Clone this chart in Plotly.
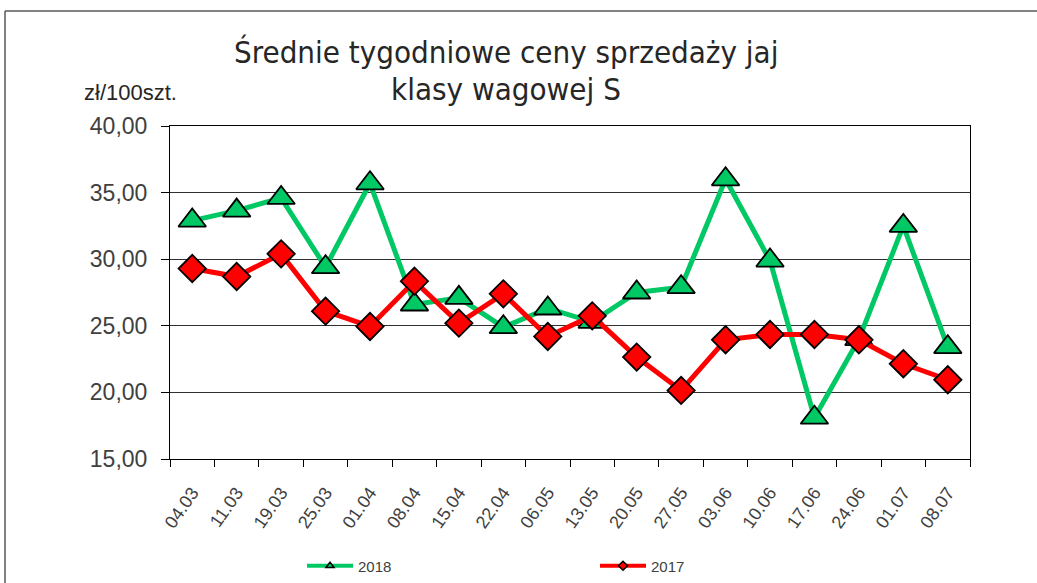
import plotly.graph_objects as go

dates = ["04.03", "11.03", "19.03", "25.03", "01.04", "08.04", "15.04", "22.04", "06.05",
         "13.05", "20.05", "27.05", "03.06", "10.06", "17.06", "24.06", "01.07", "08.07"]
s2018 = [32.9, 33.65, 34.6, 29.4, 35.7, 26.6, 27.1, 24.9, 26.3,
         25.3, 27.5, 27.9, 36.0, 29.9, 18.1, 24.0, 32.5, 23.4]
s2017 = [29.3, 28.7, 30.4, 26.1, 24.95, 28.35, 25.2, 27.4, 24.2,
         25.75, 22.65, 20.15, 23.95, 24.35, 24.35, 23.95, 22.15, 20.95]
name2018 = "2018"
name2017 = "2017"
ylabel = "zł/100szt."
title1 = "Średnie tygodniowe ceny sprzedaży jaj"
title2 = "klasy wagowej S"

GREEN = "#00C864"
RED = "#FF0000"
TXT = "#404040"

xs = list(range(len(dates)))

fig = go.Figure()
fig.add_trace(go.Scatter(
    x=xs, y=s2018, mode="lines+markers", name=name2018, showlegend=False,
    line=dict(color=GREEN, width=5),
    marker=dict(symbol="triangle-up", size=24, color=GREEN, line=dict(color="black", width=1.8)),
))
fig.add_trace(go.Scatter(
    x=xs, y=s2017, mode="lines+markers", name=name2017, showlegend=False,
    line=dict(color=RED, width=5),
    marker=dict(symbol="diamond", size=21, color=RED, line=dict(color="black", width=1.8)),
))
# legend entries (no data points)
fig.add_trace(go.Scatter(
    x=[None], y=[None], mode="lines+markers", name=name2018,
    line=dict(color=GREEN, width=4),
    marker=dict(symbol="triangle-up", size=7, color=GREEN, line=dict(color="black", width=1.5)),
))
fig.add_trace(go.Scatter(
    x=[None], y=[None], mode="lines+markers", name=name2017,
    line=dict(color=RED, width=4),
    marker=dict(symbol="diamond", size=7, color=RED, line=dict(color="black", width=1.5)),
))

L, R, T, B = 170, 970, 126, 459
W, H = 1037, 583


def px(x):
    return (x - L) / (R - L)


def py(y):
    return (B - y) / (B - T)


fig.update_layout(
    width=W, height=H,
    margin=dict(l=L, r=W - R, t=T, b=H - B, pad=0, autoexpand=False),
    paper_bgcolor="white", plot_bgcolor="white",
    separators=", ",
    font=dict(family="Liberation Sans, Arial, sans-serif", color=TXT),
    showlegend=True,
    legend=dict(
        orientation="h", xref="container", yref="container",
        x=302 / W, xanchor="left", y=(H - 566) / H, yanchor="middle",
        font=dict(size=15, color=TXT, family="Liberation Sans, Arial, sans-serif"),
        itemwidth=46,
        entrywidth=232, entrywidthmode="pixels", bgcolor="rgba(0,0,0,0)",
        traceorder="normal",
    ),
    xaxis=dict(
        range=[-0.5, len(dates) - 0.5],
        tickmode="array", tickvals=xs, ticktext=dates,
        ticks="", tickangle=-55,
        tickfont=dict(size=18, color=TXT),
        showgrid=False, zeroline=False,
        showline=True, linecolor="black", linewidth=1, mirror=True,
        minor=dict(tick0=-0.5, dtick=1, ticks="outside", ticklen=7, tickcolor="black",
                   tickwidth=1, showgrid=False),
        ticklabelstandoff=15,
    ),
    yaxis=dict(
        range=[15, 40], dtick=5, tick0=15, tickformat=".2f",
        ticks="outside", ticklen=8, tickcolor="black", tickwidth=1,
        tickfont=dict(size=23, color=TXT),
        showgrid=True, gridcolor="#303030", gridwidth=1,
        zeroline=False,
        showline=True, linecolor="black", linewidth=1, mirror=True,
        ticklabelstandoff=9,
    ),
)

TITLE_FONT = "Liberation Sans Narrow, DejaVu Sans Condensed, sans-serif"
fig.add_annotation(
    x=px(506), y=py(52), xref="paper", yref="paper", text=title1, showarrow=False,
    xanchor="center", yanchor="middle",
    font=dict(size=31, color="#262626", family=TITLE_FONT),
)
fig.add_annotation(
    x=px(506), y=py(89), xref="paper", yref="paper", text=title2, showarrow=False,
    xanchor="center", yanchor="middle",
    font=dict(size=31, color="#262626", family=TITLE_FONT),
)
fig.add_annotation(
    x=px(130), y=py(93), xref="paper", yref="paper", text=ylabel, showarrow=False,
    xanchor="center", yanchor="middle",
    font=dict(size=22, color="#262626", family="Liberation Sans, Arial, sans-serif"),
)

# outer chart frame (top and left edges visible)
fig.add_shape(type="line", xref="paper", yref="paper",
              x0=px(5), y0=py(11), x1=px(1040), y1=py(11),
              line=dict(color="#595959", width=1.5))
fig.add_shape(type="line", xref="paper", yref="paper",
              x0=px(5), y0=py(11), x1=px(5), y1=py(590),
              line=dict(color="#595959", width=1.5))

fig.write_html("out.html", config={"displayModeBar": False},
               post_script="document.body.style.margin='0';document.body.style.overflow='hidden';")
